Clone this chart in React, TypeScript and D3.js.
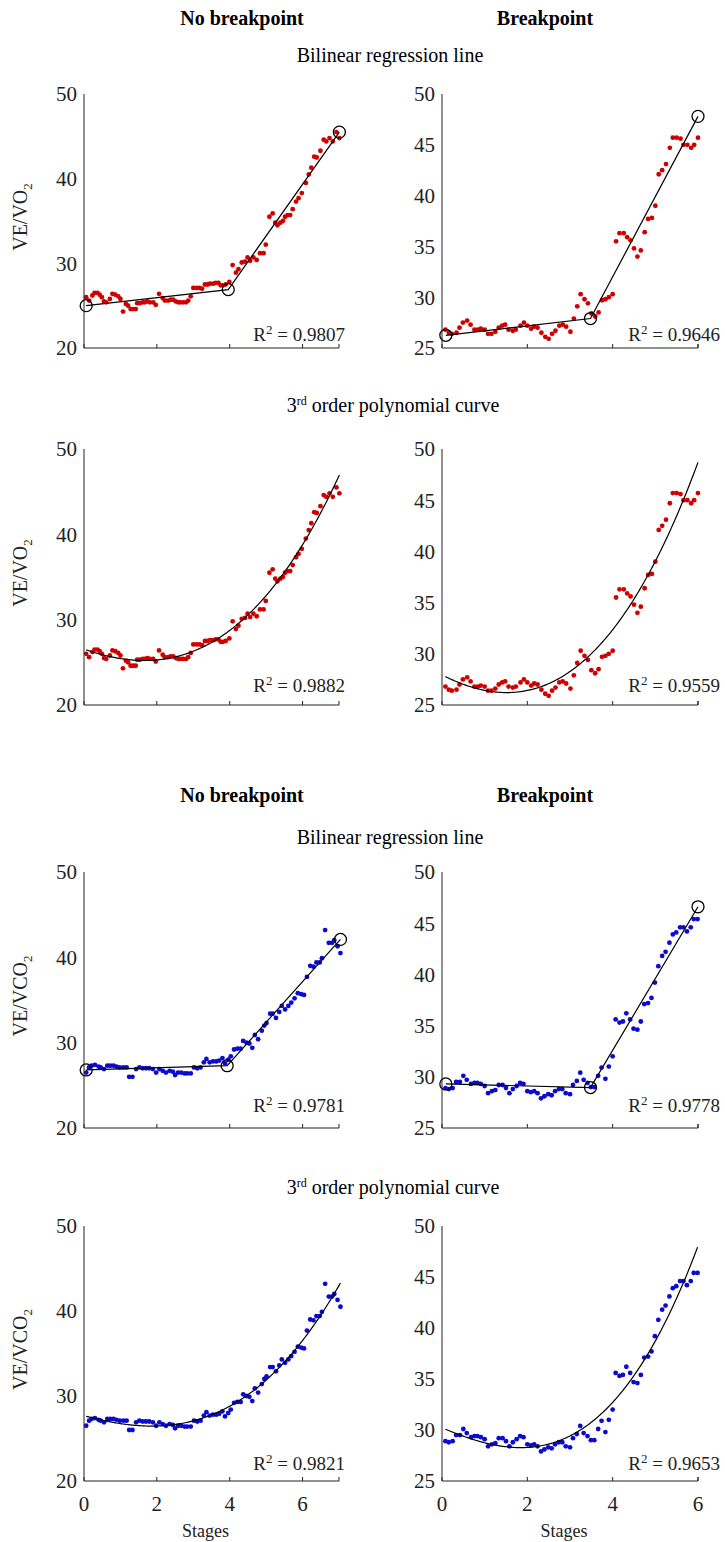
import React from 'react'
import * as d3 from 'd3'

const FONT = '"Liberation Serif", "Times New Roman", serif'

// VE/VO2, subject without breakpoint
const vo2NoBpX = [0.06, 0.14, 0.23, 0.29, 0.37, 0.43, 0.49, 0.55, 0.61, 0.71, 0.78, 0.86, 0.94, 1.0, 1.07, 1.15, 1.21, 1.28, 1.35, 1.42, 1.46, 1.53, 1.61, 1.67, 1.74, 1.81, 1.9, 1.97, 2.06, 2.16, 2.22, 2.31, 2.38, 2.45, 2.52, 2.59, 2.65, 2.72, 2.8, 2.86, 2.93, 3.0, 3.09, 3.17, 3.24, 3.32, 3.39, 3.46, 3.55, 3.62, 3.69, 3.75, 3.81, 3.89, 3.99, 4.08, 4.17, 4.24, 4.33, 4.42, 4.49, 4.56, 4.65, 4.74, 4.83, 4.93, 4.99, 5.09, 5.18, 5.25, 5.31, 5.39, 5.46, 5.52, 5.59, 5.66, 5.73, 5.82, 5.89, 5.98, 6.09, 6.17, 6.24, 6.32, 6.39, 6.49, 6.58, 6.65, 6.74, 6.83, 6.93, 7.01]
const vo2NoBpY = [26.0, 25.6, 26.2, 26.5, 26.5, 26.3, 26.0, 25.5, 25.4, 25.8, 26.4, 26.3, 26.1, 25.8, 24.3, 25.2, 25.0, 24.6, 24.6, 24.6, 25.3, 25.3, 25.4, 25.4, 25.5, 25.4, 25.4, 25.1, 26.4, 25.9, 25.6, 25.6, 25.7, 25.7, 25.5, 25.4, 25.4, 25.4, 25.4, 25.6, 26.1, 27.1, 27.1, 27.1, 27.0, 27.5, 27.5, 27.6, 27.6, 27.7, 27.7, 27.4, 27.4, 27.5, 27.8, 29.8, 28.9, 29.3, 30.1, 30.2, 30.7, 30.3, 30.7, 30.4, 31.2, 31.2, 32.2, 35.5, 35.9, 34.8, 34.5, 34.8, 35.0, 35.5, 35.7, 35.7, 36.4, 37.3, 37.7, 38.3, 39.5, 40.5, 41.3, 42.6, 42.5, 43.3, 44.6, 44.4, 44.8, 44.4, 45.5, 44.8]
const vo2NoBpKnotX = [0.06, 3.96, 7.01]
const vo2NoBpKnotY = [25.0, 26.9, 45.5]

// VE/VO2, subject with breakpoint
const vo2BpX = [0.08, 0.16, 0.23, 0.34, 0.41, 0.49, 0.59, 0.67, 0.76, 0.84, 0.91, 1.0, 1.08, 1.16, 1.25, 1.33, 1.41, 1.48, 1.56, 1.66, 1.73, 1.84, 1.92, 2.0, 2.09, 2.16, 2.24, 2.33, 2.42, 2.5, 2.58, 2.66, 2.75, 2.83, 2.91, 3.01, 3.09, 3.17, 3.25, 3.34, 3.42, 3.5, 3.59, 3.67, 3.75, 3.83, 3.91, 4.0, 4.08, 4.16, 4.26, 4.34, 4.42, 4.5, 4.58, 4.66, 4.75, 4.83, 4.92, 5.0, 5.08, 5.16, 5.25, 5.34, 5.41, 5.5, 5.59, 5.66, 5.75, 5.84, 5.91, 6.0]
const vo2BpY = [26.8, 26.5, 26.4, 26.5, 27.0, 27.5, 27.7, 27.3, 26.8, 26.8, 26.9, 26.8, 26.4, 26.4, 26.6, 27.0, 27.2, 27.3, 26.8, 26.7, 26.8, 27.2, 27.5, 27.2, 26.9, 27.1, 27.0, 26.5, 26.1, 25.9, 26.4, 26.7, 27.2, 27.3, 27.1, 26.6, 27.9, 29.1, 30.3, 29.8, 29.4, 28.4, 28.1, 28.5, 29.7, 29.8, 30.0, 30.3, 35.5, 36.3, 36.3, 35.9, 35.6, 34.8, 34.0, 34.6, 36.4, 37.7, 37.8, 39.0, 42.1, 42.5, 43.1, 44.7, 45.7, 45.7, 45.6, 45.0, 45.0, 44.7, 45.0, 45.7]
const vo2BpKnotX = [0.09, 3.48, 6.0]
const vo2BpKnotY = [26.25, 27.9, 47.8]

// VE/VCO2, subject without breakpoint
const vco2NoBpX = [0.06, 0.14, 0.21, 0.3, 0.4, 0.46, 0.55, 0.64, 0.72, 0.81, 0.89, 0.98, 1.08, 1.17, 1.24, 1.33, 1.43, 1.52, 1.61, 1.7, 1.79, 1.89, 1.98, 2.07, 2.16, 2.25, 2.35, 2.44, 2.5, 2.58, 2.67, 2.76, 2.83, 2.93, 3.02, 3.11, 3.2, 3.29, 3.36, 3.45, 3.54, 3.63, 3.71, 3.8, 3.87, 3.96, 4.03, 4.12, 4.21, 4.3, 4.37, 4.46, 4.54, 4.62, 4.69, 4.78, 4.88, 4.95, 5.01, 5.11, 5.18, 5.27, 5.36, 5.43, 5.52, 5.61, 5.69, 5.78, 5.87, 5.96, 6.04, 6.12, 6.21, 6.3, 6.38, 6.47, 6.53, 6.62, 6.72, 6.81, 6.87, 6.96, 7.04]
const vco2NoBpY = [26.5, 27.1, 27.3, 27.4, 27.2, 27.1, 26.9, 27.3, 27.3, 27.3, 27.2, 27.1, 27.1, 27.1, 26.0, 26.0, 26.9, 27.1, 27.0, 27.0, 27.0, 26.9, 26.5, 26.9, 26.7, 26.5, 26.7, 26.6, 26.2, 26.5, 26.5, 26.4, 26.4, 26.4, 27.1, 27.0, 27.1, 27.7, 28.1, 27.7, 27.8, 27.8, 27.9, 28.2, 27.6, 28.0, 28.4, 29.2, 29.3, 29.3, 30.2, 30.0, 29.9, 29.4, 30.9, 30.4, 31.4, 32.0, 32.3, 33.4, 33.4, 32.9, 33.6, 34.3, 33.9, 34.3, 34.7, 35.2, 35.8, 35.7, 35.6, 37.7, 39.0, 38.9, 39.4, 39.4, 39.9, 43.2, 41.7, 41.7, 42.0, 41.3, 40.5]
const vco2NoBpKnotX = [0.06, 3.93, 7.04]
const vco2NoBpKnotY = [26.8, 27.3, 42.1]

// VE/VCO2, subject with breakpoint
const vco2BpX = [0.08, 0.16, 0.25, 0.33, 0.42, 0.5, 0.58, 0.68, 0.76, 0.83, 0.91, 1.0, 1.08, 1.17, 1.25, 1.33, 1.42, 1.5, 1.58, 1.66, 1.75, 1.83, 1.91, 2.0, 2.08, 2.16, 2.24, 2.32, 2.4, 2.49, 2.57, 2.65, 2.74, 2.82, 2.9, 3.0, 3.07, 3.16, 3.24, 3.32, 3.41, 3.49, 3.57, 3.66, 3.74, 3.83, 3.91, 4.0, 4.07, 4.16, 4.24, 4.32, 4.41, 4.49, 4.58, 4.66, 4.74, 4.83, 4.91, 4.99, 5.07, 5.16, 5.24, 5.33, 5.41, 5.49, 5.58, 5.66, 5.74, 5.83, 5.9, 5.99]
const vco2BpY = [28.9, 28.8, 28.9, 29.5, 29.5, 30.1, 29.7, 29.3, 29.4, 29.4, 29.3, 29.1, 28.4, 28.6, 28.7, 29.2, 29.2, 28.9, 28.4, 28.8, 29.1, 29.4, 29.3, 28.6, 28.5, 28.6, 28.4, 27.9, 28.1, 28.3, 28.2, 28.6, 28.8, 28.8, 28.4, 28.3, 29.2, 29.6, 30.4, 29.7, 29.4, 29.0, 29.0, 30.1, 30.9, 29.8, 31.0, 32.0, 35.6, 35.3, 35.4, 36.2, 35.6, 34.7, 34.6, 35.4, 37.1, 37.2, 37.7, 39.2, 40.8, 41.8, 42.2, 43.1, 43.9, 44.1, 44.6, 44.6, 44.2, 44.6, 45.4, 45.4]
const vco2BpKnotX = [0.09, 3.48, 6.0]
const vco2BpKnotY = [29.3, 28.95, 46.6]

const r2Labels = ['0.9807', '0.9646', '0.9882', '0.9559', '0.9781', '0.9778', '0.9821', '0.9653']
const leftTicks = [20, 30, 40, 50]
const rightTicks = [25, 30, 35, 40, 45, 50]
const stageTicks = [0, 2, 4, 6]

// least squares cubic through the points
const fitCubic = (xs: number[], ys: number[]) => {
    const n = 4
    const A = Array.from({ length: n }, () => Array(n + 1).fill(0))
    xs.forEach((x, k) => {
        for (let i = 0; i < n; i++) {
            for (let j = 0; j < n; j++) A[i][j] += x ** (i + j)
            A[i][n] += ys[k] * x ** i
        }
    })
    for (let c = 0; c < n; c++) {
        let p = c
        for (let r = c + 1; r < n; r++) if (Math.abs(A[r][c]) > Math.abs(A[p][c])) p = r
        const tmp = A[c]
        A[c] = A[p]
        A[p] = tmp
        for (let r = 0; r < n; r++) {
            if (r === c) continue
            const f = A[r][c] / A[c][c]
            for (let k = c; k <= n; k++) A[r][k] -= f * A[c][k]
        }
    }
    const coef = A.map((row, i) => row[n] / row[i])
    return (x: number) => coef.reduce((s, c, i) => s + c * x ** i, 0)
}

const cols = [
    { left: 84, right: 339, xMax: 7, yDomain: [20, 50], ticks: leftTicks, r2Right: 345 },
    { left: 442, right: 698, xMax: 6, yDomain: [25, 50], ticks: rightTicks, r2Right: 720 }
]
const rows = [
    { top: 94, bottom: 348, r2Dy: 7 },
    { top: 449, bottom: 705, r2Dy: 13 },
    { top: 872, bottom: 1128, r2Dy: 16 },
    { top: 1226, bottom: 1481, r2Dy: 11 }
]

const datasets = [
    { xs: vo2NoBpX, ys: vo2NoBpY, kx: vo2NoBpKnotX, ky: vo2NoBpKnotY, color: '#d00000' },
    { xs: vo2BpX, ys: vo2BpY, kx: vo2BpKnotX, ky: vo2BpKnotY, color: '#d00000' },
    { xs: vco2NoBpX, ys: vco2NoBpY, kx: vco2NoBpKnotX, ky: vco2NoBpKnotY, color: '#0a0ad0' },
    { xs: vco2BpX, ys: vco2BpY, kx: vco2BpKnotX, ky: vco2BpKnotY, color: '#0a0ad0' }
]

const Panel = ({ row, col }) => {
    const r = rows[row]
    const c = cols[col]
    const ds = datasets[(row >= 2 ? 2 : 0) + col]
    const poly = row % 2 === 1
    const x = d3.scaleLinear().domain([0, c.xMax]).range([c.left, c.right])
    const y = d3.scaleLinear().domain(c.yDomain).range([r.bottom, r.top])
    const line = d3.line<[number, number]>().x(d => x(d[0])).y(d => y(d[1]))

    let fitPath = ''
    if (poly) {
        const f = fitCubic(ds.xs, ds.ys)
        const [x0, x1] = d3.extent(ds.xs) as [number, number]
        const pts = d3.range(0, 201).map(i => x0 + ((x1 - x0) * i) / 200)
        fitPath = line(pts.map(v => [v, f(v)]))
    } else {
        fitPath = line(d3.zip(ds.kx, ds.ky) as [number, number][])
    }

    return (
        <g>
            {ds.xs.map((v, i) => (
                <circle key={i} cx={x(v)} cy={y(ds.ys[i])} r={2.4} fill={ds.color} />
            ))}
            <path d={fitPath} fill="none" stroke="#000" strokeWidth={1.2} />
            {!poly &&
                ds.kx.map((v, i) => (
                    <circle key={'k' + i} cx={x(v)} cy={y(ds.ky[i])} r={6} fill="none" stroke="#000" strokeWidth={1.3} />
                ))}
            <line x1={c.left} x2={c.left} y1={r.top} y2={r.bottom} stroke="#222" strokeWidth={1} />
            <line x1={c.left} x2={c.right} y1={r.bottom} y2={r.bottom} stroke="#222" strokeWidth={1} />
            {stageTicks.map(t => (
                <line key={'xt' + t} x1={x(t)} x2={x(t)} y1={r.bottom} y2={r.bottom - 4} stroke="#222" />
            ))}
            <line x1={c.right} x2={c.right} y1={r.bottom} y2={r.bottom - 4} stroke="#222" />
            {c.ticks.map(t => (
                <text key={'yt' + t} x={c.left - 7} y={y(t)} dy="0.35em" textAnchor="end" fontSize={21} fill="#222">
                    {t}
                </text>
            ))}
            {row === 3 &&
                stageTicks.map(t => (
                    <text key={'xl' + t} x={x(t)} y={1511} textAnchor="middle" fontSize={21} fill="#222">
                        {t}
                    </text>
                ))}
            {row === 3 && (
                <text x={(c.left + c.right) / 2 - 6} y={1537} textAnchor="middle" fontSize={18} fill="#222">
                    Stages
                </text>
            )}
            <text x={c.r2Right} y={r.bottom - r.r2Dy} textAnchor="end" fontSize={19} fill="#222">
                R<tspan dy={-7} fontSize={13}>2</tspan>
                <tspan dy={7}> = {r2Labels[row * 2 + col]}</tspan>
            </text>
            {col === 0 && (
                <text
                    transform={`translate(27,${(r.top + r.bottom) / 2 - 4}) rotate(-90)`}
                    textAnchor="middle"
                    fontSize={20}
                    fill="#222"
                >
                    {row < 2 ? 'VE/VO' : 'VE/VCO'}
                    <tspan dy={5} fontSize={13}>2</tspan>
                </text>
            )}
        </g>
    )
}

const Header = ({ top }) => (
    <g>
        <text x={242} y={top} textAnchor="middle" fontWeight="bold" fontSize={20}>
            No breakpoint
        </text>
        <text x={545} y={top} textAnchor="middle" fontWeight="bold" fontSize={20}>
            Breakpoint
        </text>
    </g>
)

const Subtitle = ({ y, poly }) =>
    poly ? (
        <text x={393} y={y} textAnchor="middle" fontSize={20}>
            3<tspan dy={-7} fontSize={12}>rd</tspan>
            <tspan dy={7}> order polynomial curve</tspan>
        </text>
    ) : (
        <text x={390} y={y} textAnchor="middle" fontSize={20}>
            Bilinear regression line
        </text>
    )

export default function App() {
    return (
        <svg
            width={725}
            height={1542}
            style={{ position: 'absolute', left: 0, top: 0, background: '#fff' }}
            fontFamily={FONT}
        >
            <Header top={25} />
            <Subtitle y={62} poly={false} />
            <Subtitle y={412} poly={true} />
            <Header top={802} />
            <Subtitle y={844} poly={false} />
            <Subtitle y={1194} poly={true} />
            {[0, 1, 2, 3].map(row =>
                [0, 1].map(col => <Panel key={row + '-' + col} row={row} col={col} />)
            )}
        </svg>
    )
}
